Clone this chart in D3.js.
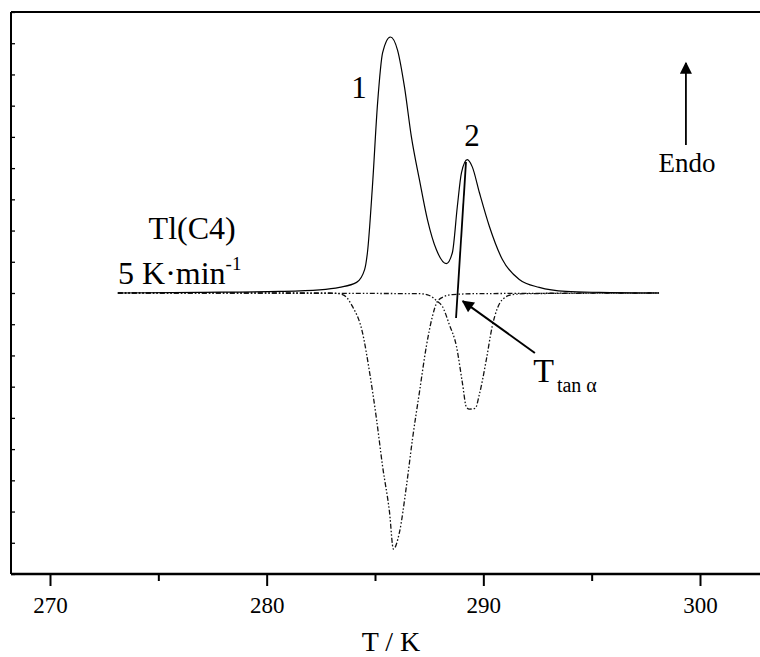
<!DOCTYPE html>
<html>
<head>
<meta charset="utf-8">
<script src="https://cdn.jsdelivr.net/npm/d3@7"></script>
<style>
  html, body { margin: 0; padding: 0; background: #fff; }
  svg { display: block; }
  svg text { font-family: "Times New Roman", "Liberation Serif", Times, serif; fill: #000; }
</style>
</head>
<body>
<svg id="chart" width="760" height="657"></svg>
<script>
// ---- data (T in K, signal in arbitrary units, baseline = 0) ----
const heatingT = [273.13, 276.91, 280.60, 282.44, 283.36, 284.15, 284.52, 284.65, 284.88, 285.12, 285.35, 285.71, 286.04, 286.36, 286.68, 287.05, 287.42, 287.83, 288.29, 288.57, 288.80, 288.99, 289.26, 289.49, 289.82, 290.28, 290.88, 291.66, 292.58, 293.82, 295.35, 298.11];
const heatingV = [0, 0.02, 0.05, 0.10, 0.18, 0.34, 0.75, 1.29, 3.40, 6.09, 7.69, 8.20, 7.78, 6.60, 5.00, 3.63, 2.35, 1.39, 0.94, 1.29, 2.77, 3.85, 4.27, 4.04, 3.21, 2.13, 1.07, 0.43, 0.18, 0.05, 0.02, 0];

const cool1T = [273.13, 282.90, 283.50, 283.96, 284.42, 284.75, 285.07, 285.35, 285.67, 285.85, 286.13, 286.45, 286.73, 287.05, 287.37, 287.65, 287.88, 288.20, 288.57, 289.82, 298.11];
const cool1V = [0, 0, -0.05, -0.43, -1.26, -2.54, -4.04, -5.55, -7.02, -8.20, -7.66, -6.19, -4.68, -3.18, -1.71, -0.75, -0.27, -0.11, -0.05, -0.02, 0];

const cool2T = [273.13, 287.05, 287.51, 287.88, 288.11, 288.43, 288.76, 289.03, 289.22, 289.35, 289.63, 289.82, 290.14, 290.41, 290.88, 291.34, 292.12, 298.11];
const cool2V = [0, -0.02, -0.08, -0.27, -0.43, -1.01, -1.71, -2.86, -3.66, -3.72, -3.69, -3.24, -2.13, -1.07, -0.21, -0.05, -0.02, 0];

const xMajorTicks = [270, 280, 290, 300];
const xMinorTicks = [275, 285, 295];
const yTicks = d3.range(-9, 10, 1);

const tangentT = [288.74, 289.20];
const tangentV = [-0.80, 4.20];
const arrowT = [292.38, 289.05];
const arrowV = [-1.92, -0.26];
const endoArrowT = [299.35, 299.35];
const endoArrowV = [4.74, 7.37];

const peakLabels = ["1", "2"];
const peakLabelT = [284.26, 289.48];
const peakLabelV = [6.25, 4.71];

// ---- scales ----
const svg = d3.select("#chart");
const x = d3.scaleLinear().domain([270, 300]).range([50, 700]);
const y = d3.scaleLinear().domain([-9, 9]).range([574, 12]);
const xLeft = 11, xRight = 760;

const defs = svg.append("defs");
defs.append("marker").attr("id", "head2").attr("viewBox", "0 0 10 10")
  .attr("refX", 9).attr("refY", 5).attr("markerWidth", 22).attr("markerHeight", 12)
  .attr("markerUnits", "userSpaceOnUse").attr("orient", "auto")
  .append("path").attr("d", "M0,0 L10,5 L0,10 Z").attr("fill", "#000");

// ---- frame ----
svg.append("line").attr("x1", xLeft).attr("x2", xRight).attr("y1", y(9)).attr("y2", y(9))
  .attr("stroke", "#000").attr("stroke-width", 2);
svg.append("line").attr("x1", xLeft).attr("x2", xLeft).attr("y1", y(9)).attr("y2", y(-9))
  .attr("stroke", "#000").attr("stroke-width", 2);

// left axis ticks (inside, no labels)
const yAxis = d3.axisRight(y).tickValues(yTicks).tickSize(4).tickFormat("");
const gy = svg.append("g").attr("transform", `translate(${xLeft},0)`).call(yAxis);
gy.select(".domain").remove();
gy.selectAll(".tick line").attr("stroke", "#000").attr("stroke-width", 1.3);

// bottom axis
const gx = svg.append("g").attr("transform", `translate(0,${y(-9)})`);
gx.call(d3.axisBottom(x).tickValues(xMajorTicks).tickSize(12).tickPadding(11).tickFormat(d3.format("d")));
gx.attr("font-family", null).attr("font-size", null);
gx.select(".domain").remove();
gx.selectAll(".tick line").attr("stroke", "#000").attr("stroke-width", 2);
gx.selectAll(".tick text").attr("font-size", 23).attr("fill", "#000");
const gxm = svg.append("g").attr("transform", `translate(0,${y(-9)})`);
gxm.call(d3.axisBottom(x).tickValues(xMinorTicks).tickSize(7).tickFormat(""));
gxm.select(".domain").remove();
gxm.selectAll(".tick line").attr("stroke", "#000").attr("stroke-width", 2);
svg.append("line").attr("x1", xLeft).attr("x2", xRight).attr("y1", y(-9)).attr("y2", y(-9))
  .attr("stroke", "#000").attr("stroke-width", 2.5);

svg.append("text").attr("x", 391).attr("y", 651).attr("text-anchor", "middle")
  .attr("font-size", 28).text("T / K");

// ---- curves ----
const line = d3.line().x(d => x(d[0])).y(d => y(d[1])).curve(d3.curveMonotoneX);
const zip = (a, b) => a.map((v, i) => [v, b[i]]);

[zip(cool1T, cool1V), zip(cool2T, cool2V)].forEach(pts => {
  svg.append("path").datum(pts).attr("d", line)
    .attr("fill", "none").attr("stroke", "#111").attr("stroke-width", 1.3)
    .attr("stroke-dasharray", "5,2,1.5,2,1.5,2");
});
svg.append("path").datum(zip(heatingT, heatingV)).attr("d", line)
  .attr("fill", "none").attr("stroke", "#000").attr("stroke-width", 1.2);

// tangent line
svg.append("line").attr("x1", x(tangentT[0])).attr("y1", y(tangentV[0]))
  .attr("x2", x(tangentT[1])).attr("y2", y(tangentV[1]))
  .attr("stroke", "#000").attr("stroke-width", 1.8);

// T_tan arrow
svg.append("line").attr("x1", x(arrowT[0])).attr("y1", y(arrowV[0]))
  .attr("x2", x(arrowT[1])).attr("y2", y(arrowV[1]))
  .attr("stroke", "#000").attr("stroke-width", 2).attr("marker-end", "url(#head2)");

// Endo arrow
svg.append("line").attr("x1", x(endoArrowT[0])).attr("y1", y(endoArrowV[0]))
  .attr("x2", x(endoArrowT[1])).attr("y2", y(endoArrowV[1]))
  .attr("stroke", "#000").attr("stroke-width", 1.8).attr("marker-end", "url(#head2)");

// ---- labels ----
svg.selectAll("text.peak").data(peakLabels).enter().append("text")
  .attr("class", "peak")
  .attr("x", (d, i) => x(peakLabelT[i])).attr("y", (d, i) => y(peakLabelV[i]))
  .attr("text-anchor", "middle").attr("font-size", 31).text(d => d);

svg.append("text").attr("x", x(299.40)).attr("y", y(3.88)).attr("text-anchor", "middle")
  .attr("font-size", 27).text("Endo");

svg.append("text").attr("x", x(274.55)).attr("y", y(1.72)).attr("font-size", 32).text("Tl(C4)");
const rate = svg.append("text").attr("x", x(273.14)).attr("y", y(0.29)).attr("font-size", 32);
rate.append("tspan").text("5 K\u00B7min");
rate.append("tspan").attr("font-size", 19).attr("dy", -14).text("-1");

const tt = svg.append("text").attr("x", x(292.30)).attr("y", y(-2.85)).attr("font-size", 34);
tt.append("tspan").text("T");
tt.append("tspan").attr("font-size", 20).attr("dy", 10).attr("dx", 3).text("tan \u03B1");
</script>
</body>
</html>
